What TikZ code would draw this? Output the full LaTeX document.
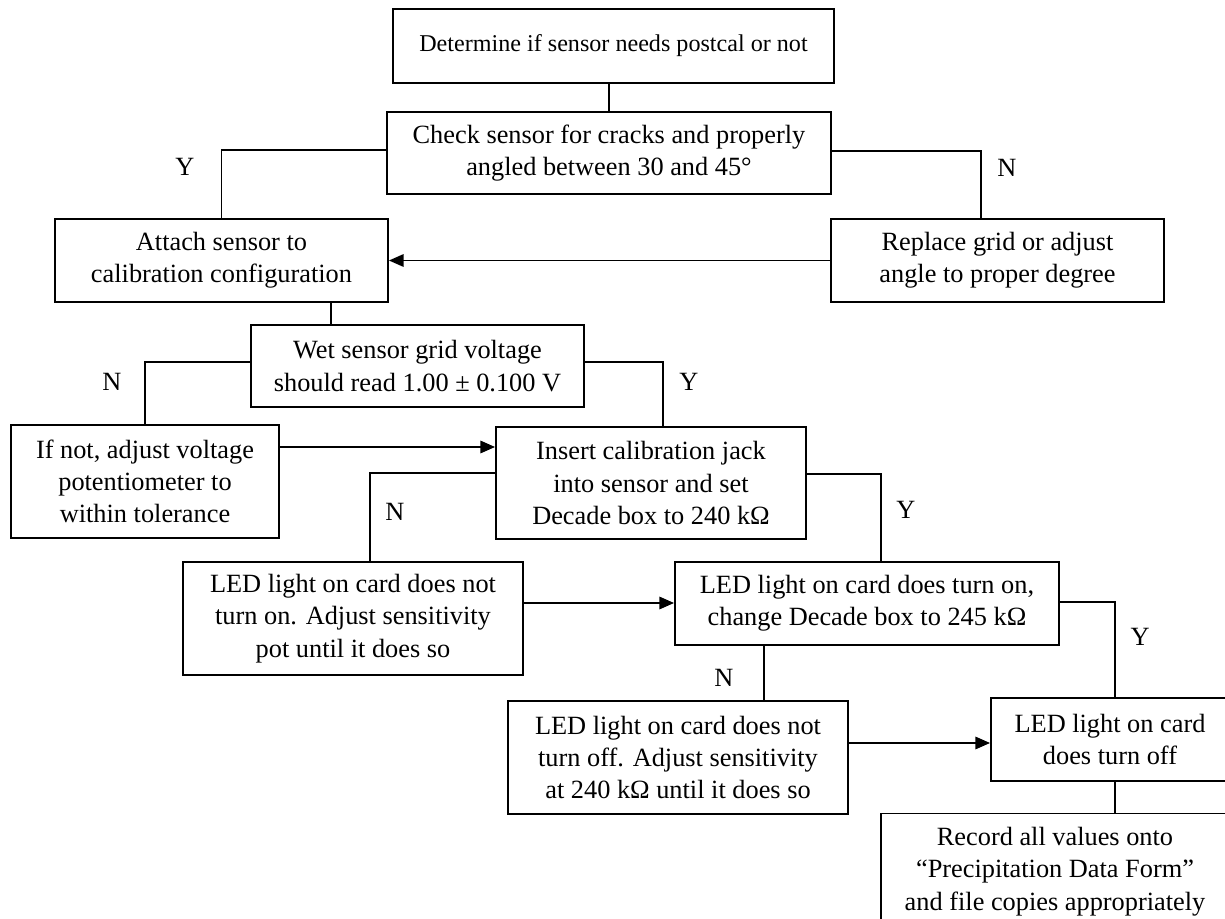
\documentclass[tikz,border=0pt]{standalone}
\usepackage{fontspec}
\setmainfont{Liberation Serif}
\usetikzlibrary{arrows.meta}
\begin{document}
\begin{tikzpicture}[x=0.45pt, y=-0.45pt,
        box/.style={draw, line width=0.85pt, align=center, inner sep=0pt,
                    font=\fontsize{11.85}{14.5}\selectfont},
        con/.style={line width=0.85pt},
        arr/.style={con, -{Triangle[length=6.6pt, width=5.6pt]}},
        yn/.style={font=\fontsize{11.85}{14.5}\selectfont},
    ]
    \useasboundingbox (0,0) rectangle (1225,919);
    \clip (0,0) rectangle (1225,919);
    % steps
    \node[box, minimum width=198.45pt, minimum height=33.3pt,
          font=\fontsize{10.85}{13}\selectfont] (det) at (613.5,46)
          {Determine if sensor needs postcal or not};
    \node[box, minimum width=199.8pt, minimum height=36.9pt] (check) at (609,153)
          {Check sensor for cracks and properly\\ angled between 30 and 45°};
    \node[box, minimum width=149.85pt, minimum height=37.35pt] (attach) at (221.5,260.5)
          {Attach sensor to\\ calibration configuration};
    \node[box, minimum width=149.85pt, minimum height=37.35pt] (replace) at (997.5,260.5)
          {Replace grid or adjust\\ angle to proper degree};
    \node[box, minimum width=149.85pt, minimum height=36.9pt] (wet) at (417.5,366)
          {Wet sensor grid voltage\\ should read 1.00 ± 0.100 V};
    \node[box, minimum width=120.6pt, minimum height=50.85pt] (ifnot) at (145,481.5)
          {If not, adjust voltage\\ potentiometer to\\ within tolerance};
    \node[box, minimum width=139.5pt, minimum height=50.4pt] (insert) at (651,483)
          {Insert calibration jack\\ into sensor and set\\ Decade box to 240 kΩ};
    \node[box, minimum width=153pt, minimum height=50.85pt] (noton) at (353,618.5)
          {LED light on card does not\\ turn on. Adjust sensitivity\\ pot until it does so};
    \node[box, minimum width=172.8pt, minimum height=37.35pt] (on) at (867,603.5)
          {LED light on card does turn on,\\ change Decade box to 245 kΩ};
    \node[box, minimum width=153pt, minimum height=50.85pt] (notoff) at (678,757.5)
          {LED light on card does not\\ turn off. Adjust sensitivity\\ at 240 kΩ until it does so};
    \node[box, minimum width=107.1pt, minimum height=37.35pt] (off) at (1110,739.5)
          {LED light on card\\ does turn off};
    \node[box, minimum width=156.6pt, minimum height=52.2pt] (record) at (1055,871.5)
          {Record all values onto\\ “Precipitation Data Form”\\ and file copies appropriately};
    % links
    \draw[con] (det.south -| check.north) -- (check.north);
    \draw[con] (check.west |- 0,150) -| (attach.north);
    \draw[con] (check.east |- 0,151) -| (replace.north -| 981,0);
    \draw[arr] (replace.west) -- (attach.east);
    \draw[con] (attach.south -| 331,0) -- (wet.north -| 331,0);
    \draw[con] (wet.west |- 0,362) -| (ifnot.north);
    \draw[con] (wet.east |- 0,362) -| (insert.north -| 663,0);
    \draw[arr] (ifnot.east |- 0,447) -- (insert.west |- 0,447);
    \draw[con] (insert.west |- 0,473) -| (noton.north -| 370,0);
    \draw[con] (insert.east |- 0,474) -| (on.north -| 881,0);
    \draw[arr] (noton.east |- 0,603) -- (on.west |- 0,603);
    \draw[con] (on.east |- 0,602) -| (off.north -| 1115,0);
    \draw[con] (on.south -| 764,0) -- (notoff.north -| 764,0);
    \draw[arr] (notoff.east |- 0,743) -- (off.west |- 0,743);
    \draw[con] (off.south -| 1115,0) -- (record.north -| 1115,0);
    % Y / N
    \node[yn] (y1) at (185,167) {Y};
    \node[yn] (n1) at (1007,168) {N};
    \node[yn] (n2) at (112,382) {N};
    \node[yn] (y2) at (689,382) {Y};
    \node[yn] (n3) at (395,512) {N};
    \node[yn] (y3) at (906,510) {Y};
    \node[yn] (n4) at (724,678) {N};
    \node[yn] (y4) at (1140,637) {Y};
\end{tikzpicture}
\end{document}
